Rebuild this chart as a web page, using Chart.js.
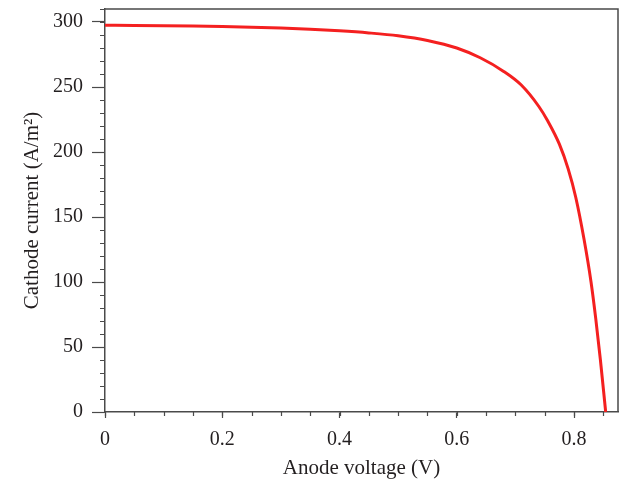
<!DOCTYPE html>
<html>
<head>
<meta charset="utf-8">
<script src="https://cdn.jsdelivr.net/npm/chart.js@4.4.1/dist/chart.umd.min.js"></script>
<style>
  html, body { margin: 0; padding: 0; background: #fff; }
  #wrap { width: 622px; height: 484px; }
</style>
</head>
<body>
<div id="wrap"><canvas id="myChart"></canvas></div>
<script>
// anode voltage (V) and cathode current (A/m2)
const voltage = [0, 0.05, 0.1, 0.15, 0.2, 0.25, 0.3, 0.35, 0.4, 0.45, 0.5, 0.55, 0.6,
    0.64, 0.68, 0.71, 0.74, 0.755, 0.775, 0.79, 0.803, 0.817, 0.829, 0.837, 0.845, 0.854];
const current = [297.5, 297.4, 297.2, 296.9, 296.5, 296, 295.3, 294.4, 293.2, 291.6, 289.4, 285.8, 280,
    272.5, 262, 251.5, 235, 224, 206, 187, 165, 133, 100, 72, 40, 0];

const xTicks = [0, 0.2, 0.4, 0.6, 0.8];
const yTicks = [0, 50, 100, 150, 200, 250, 300];

const axisColor = '#4a4a4a';
const textColor = '#231f20';
const serif = "'Liberation Serif', 'Times New Roman', serif";

// minor ticks and the top/right frame
const framePlugin = {
    id: 'frame',
    afterDraw(chart) {
        const ctx = chart.ctx;
        const a = chart.chartArea;
        const x = chart.scales.x;
        const y = chart.scales.y;
        ctx.save();
        ctx.strokeStyle = axisColor;
        ctx.lineWidth = 1.5;
        ctx.beginPath();
        ctx.moveTo(a.left, a.top);
        ctx.lineTo(a.right, a.top);
        ctx.lineTo(a.right, a.bottom);
        ctx.stroke();

        ctx.lineWidth = 1.2;
        ctx.beginPath();
        for (let v = 0; v <= 0.87; v += 0.05) {
            const px = Math.round(x.getPixelForValue(v)) + 0.5;
            ctx.moveTo(px, a.bottom);
            ctx.lineTo(px, a.bottom + 4);
        }
        for (let v = 0; v <= 310; v += 10) {
            const py = Math.round(y.getPixelForValue(v)) + 0.5;
            ctx.moveTo(a.left, py);
            ctx.lineTo(a.left - 5, py);
        }
        ctx.stroke();
        ctx.restore();
    }
};

const ctx = document.getElementById('myChart');

new Chart(ctx, {
    type: 'line',
    data: {
        datasets: [{
            data: voltage.map((v, i) => ({x: v, y: current[i]})),
            borderColor: '#f42020',
            borderWidth: 3,
            pointRadius: 0,
            cubicInterpolationMode: 'monotone',
            fill: false
        }]
    },
    options: {
        responsive: true,
        maintainAspectRatio: false,
        animation: false,
        layout: {
            padding: {top: 0, right: 4, left: 0, bottom: 0}
        },
        plugins: {
            legend: {display: false},
            tooltip: {enabled: false}
        },
        scales: {
            x: {
                type: 'linear',
                min: 0,
                max: 0.875,
                afterBuildTicks: s => { s.ticks = xTicks.map(v => ({value: v})); },
                afterFit: s => { s.height = 72; },
                ticks: {
                    color: textColor,
                    padding: 10,
                    maxRotation: 0,
                    font: {size: 20, family: serif},
                    callback: v => v === 0 ? '0' : v.toFixed(1)
                },
                grid: {
                    drawOnChartArea: false,
                    tickLength: 6,
                    tickColor: axisColor,
                    tickWidth: 1.2
                },
                border: {color: axisColor, width: 1.5},
                title: {
                    display: true,
                    text: 'Anode voltage (V)',
                    color: textColor,
                    font: {size: 21, family: serif},
                    padding: {top: 0, bottom: 3}
                }
            },
            y: {
                min: 0,
                max: 310,
                afterBuildTicks: s => { s.ticks = yTicks.map(v => ({value: v})); },
                afterFit: s => { s.width = 105; s.paddingTop = 9; s.paddingBottom = 0; },
                ticks: {
                    color: textColor,
                    padding: 9,
                    font: {size: 20, family: serif}
                },
                grid: {
                    drawOnChartArea: false,
                    tickLength: 13,
                    tickColor: axisColor,
                    tickWidth: 1.2
                },
                border: {color: axisColor, width: 1.5},
                title: {
                    display: true,
                    text: 'Cathode current (A/m²)',
                    color: textColor,
                    font: {size: 21, family: serif},
                    padding: {top: 20, bottom: 0}
                }
            }
        }
    },
    plugins: [framePlugin]
});
</script>
</body>
</html>
